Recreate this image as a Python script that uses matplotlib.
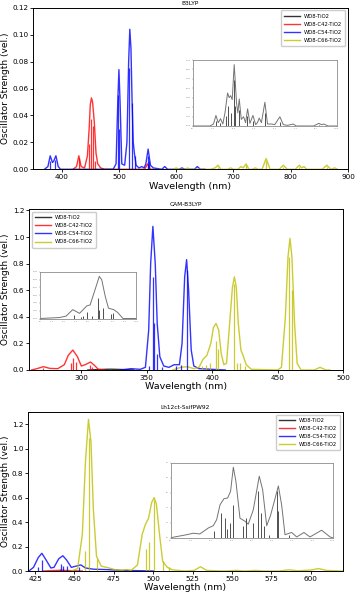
import numpy as np
import matplotlib
matplotlib.use('Agg')
import matplotlib.pyplot as plt

# series names and colours
names = ['WD8-TiO2', 'WD8-C42-TiO2', 'WD8-C54-TiO2', 'WD8-C66-TiO2']
colors = ['k', 'r', 'b', 'y']

# ---------------- B3LYP ----------------
b3_c42 = [(420, 0), (426, 0.002), (430, 0.010), (434, 0.002), (440, 0.001), (445, 0.01),
          (448, 0.03), (450, 0.048), (452, 0.053), (454, 0.05), (457, 0.035), (460, 0.012),
          (463, 0.004), (468, 0.001), (475, 0), (545, 0), (550, 0.004), (555, 0), (560, 0)]
b3_c42_sticks = [(430, 0.008), (448, 0.019), (451, 0.037), (454, 0.032), (459, 0.006), (550, 0.003)]
b3_c54 = [(370, 0), (376, 0.002), (380, 0.010), (384, 0.005), (386, 0.006), (390, 0.010),
          (394, 0.002), (398, 0), (490, 0), (495, 0.004), (498, 0.05), (500, 0.074), (502, 0.05),
          (505, 0.004), (510, 0.003), (514, 0.02), (517, 0.08), (519, 0.104), (521, 0.09),
          (523, 0.05), (525, 0.02), (527, 0.012), (530, 0.003), (535, 0.001), (540, 0.002),
          (544, 0.001), (547, 0.004), (551, 0.015), (555, 0.003), (560, 0.001), (575, 0),
          (580, 0.002), (585, 0), (605, 0), (610, 0.001), (615, 0), (632, 0), (637, 0.002),
          (642, 0), (650, 0)]
b3_c54_sticks = [(379, 0.006), (389, 0.007), (499, 0.055), (501, 0.03), (518, 0.075),
                 (522, 0.049), (528, 0.01), (550, 0.01), (552, 0.006)]
b3_c66 = [(595, 0), (600, 0.001), (605, 0), (616, 0), (620, 0.001), (624, 0), (660, 0),
          (668, 0.001), (673, 0.003), (678, 0), (690, 0), (695, 0.001), (700, 0), (708, 0),
          (713, 0.002), (717, 0.001), (722, 0.004), (727, 0), (733, 0), (738, 0.001), (743, 0),
          (750, 0), (757, 0.008), (764, 0), (780, 0), (787, 0.003), (794, 0), (808, 0),
          (815, 0.003), (819, 0.001), (823, 0.002), (828, 0), (855, 0), (863, 0.003), (870, 0),
          (877, 0.001), (882, 0)]
b3_c66_sticks = [(673, 0.002), (722, 0.003), (757, 0.006), (787, 0.002), (815, 0.002), (863, 0.002)]
b3_inset = [(0, 0), (12, 0), (14.5, 0.03), (16.2, 0.16), (17.8, 0.05), (19.4, 0.11), (21, 0.03),
            (22.5, 0.2), (24.3, 0.50), (25.4, 0.43), (26.4, 0.46), (27.5, 0.4), (28.9, 0.93),
            (30.5, 0.35), (31.4, 0.2), (32.4, 0.41), (33.8, 0.1), (35.4, 0.14), (36.8, 0.05),
            (38.2, 0.26), (39.8, 0.04), (41.9, 0.16), (43.8, 0.02), (45, 0.05), (46.3, 0.12),
            (47.8, 0.05), (50.2, 0.36), (52, 0.03), (54.9, 0.03), (57, 0.02), (60.6, 0.14),
            (63, 0.02), (66, 0.01), (69.9, 0.03), (72, 0), (84, 0), (87.7, 0.04), (89.5, 0.02),
            (91.2, 0.03), (94, 0), (100, 0)]
b3_inset_sticks = [(16, 0.08), (19, 0.05), (23.5, 0.15), (24.5, 0.3), (26.5, 0.2), (28.8, 0.7),
                   (29.5, 0.3), (32.4, 0.25), (38, 0.15), (41.8, 0.08), (50.2, 0.2), (60.5, 0.06),
                   (87.6, 0.02)]

# ---------------- CAM-B3LYP ----------------
cam_c0 = [(305, 0), (315, 0.004), (322, 0.006), (330, 0.004), (340, 0)]
cam_c42 = [(262, 0), (266, 0.01), (271, 0.025), (276, 0.012), (282, 0.01), (287, 0.04),
           (290, 0.11), (293.5, 0.15), (297, 0.1), (300, 0.03), (303, 0.04), (307, 0.06),
           (310, 0.035), (313, 0.005), (318, 0)]
cam_c42_sticks = [(271, 0.015), (292, 0.05), (294, 0.09), (296, 0.06), (307, 0.04), (308, 0.02)]
cam_c54 = [(330, 0), (338, 0.01), (345, 0.005), (349, 0.02), (351.5, 0.3), (353, 0.8),
           (354.7, 1.08), (356.5, 0.8), (358, 0.35), (360, 0.1), (363, 0.03), (367, 0.02),
           (371, 0.04), (375, 0.04), (377, 0.2), (379, 0.7), (380.5, 0.83), (382, 0.6),
           (384, 0.15), (386, 0.03), (390, 0.01), (400, 0.005), (410, 0)]
cam_c54_sticks = [(352, 0.03), (355, 0.70), (355.6, 0.35), (358, 0.12), (362, 0.02),
                  (372, 0.03), (376, 0.04), (380.5, 0.75)]
cam_c66 = [(370, 0), (376, 0.02), (381, 0.025), (386, 0.01), (390, 0.02), (393, 0.08),
           (396, 0.11), (399, 0.2), (401, 0.32), (403, 0.35), (405, 0.3), (407, 0.12),
           (409, 0.04), (411, 0.05), (413, 0.3), (415.5, 0.62), (417, 0.70), (418.5, 0.62),
           (420, 0.35), (422, 0.15), (424, 0.1), (426, 0.04), (430, 0.005), (440, 0.003),
           (450, 0), (453, 0.02), (456, 0.4), (458, 0.85), (459.5, 0.99), (461, 0.85),
           (463, 0.35), (465, 0.05), (468, 0), (478, 0), (482.5, 0.02), (487, 0), (490, 0)]
cam_c66_sticks = [(392, 0.03), (395, 0.04), (398, 0.05), (403, 0.22), (404.5, 0.16),
                  (417, 0.65), (419, 0.05), (421, 0.05), (425, 0.03), (459, 0.85), (461, 0.6)]
cam_inset = [(0, 0), (20, 0.02), (27, 0.05), (34, 0.19), (41, 0.11), (48.6, 0.27), (52, 0.29),
             (57, 0.61), (61.5, 0.9), (64, 0.83), (67.7, 0.47), (71, 0.22), (76.4, 0.19),
             (80.5, 0.13), (86, 0), (100, 0)]
cam_inset_sticks = [(35, 0.08), (43, 0.04), (45, 0.06), (49, 0.14), (54, 0.05), (59.7, 0.44),
                    (61.5, 0.19), (65, 0.22), (73.6, 0.1), (76, 0.12)]

# ---------------- Lh12ct-SsifPW92 ----------------
lh_c42 = [(430, 0), (436, 0.004), (442, 0.006), (448, 0.003), (455, 0)]
lh_c42_sticks = [(438, 0.01), (441, 0.02), (443, 0.015), (445, 0.01)]
lh_c54 = [(421, 0), (424, 0.03), (427, 0.11), (429.3, 0.145), (432, 0.09), (435, 0.025),
          (437, 0.03), (440, 0.1), (442.6, 0.125), (445, 0.09), (448, 0.03), (451, 0.04),
          (454, 0.05), (457, 0.025), (462, 0.015), (470, 0.012), (480, 0.005), (490, 0.003),
          (500, 0)]
lh_c54_sticks = [(427, 0.03), (429.5, 0.09), (441.5, 0.06), (442.5, 0.04), (445, 0.04), (453, 0.03)]
lh_c66 = [(448, 0), (452, 0.02), (455, 0.3), (457, 0.9), (458.9, 1.24), (460.5, 1.05),
          (462, 0.5), (464, 0.12), (467, 0.04), (472, 0.025), (476, 0.01), (480, 0.005),
          (483, 0.012), (486, 0.005), (490, 0.05), (493, 0.3), (495, 0.38), (497, 0.43),
          (499, 0.56), (500.6, 0.6), (502, 0.55), (504, 0.3), (506, 0.08), (509, 0.03),
          (512, 0.01), (520, 0), (526, 0.005), (530, 0.035), (534, 0.005), (545, 0),
          (553, 0.005), (558, 0), (565, 0.005), (570, 0), (580, 0), (586, 0.01), (592, 0.002),
          (600, 0.008), (605, 0.02), (610, 0.005), (620, 0)]
lh_c66_sticks = [(457, 0.16), (459.5, 1.09), (464.5, 0.1), (495.2, 0.18), (497.3, 0.24),
                 (500.8, 0.58), (506.2, 0.08), (510, 0.03)]
lh_inset = [(0, 0), (9.9, 0.04), (14, 0.06), (18, 0.05), (23.3, 0.13), (26.3, 0.16), (28.4, 0.24),
            (30.5, 0.44), (32.9, 0.52), (35.2, 0.53), (37, 0.62), (38.7, 0.94), (40.3, 0.75),
            (42.8, 0.26), (45.9, 0.22), (47.9, 0.18), (51, 0.37), (54.7, 0.82), (56.8, 0.64),
            (59.3, 0.16), (61.7, 0.3), (66.5, 0.69), (68.5, 0.44), (70.6, 0.04), (74.7, 0.07),
            (77.8, 0.01), (82.3, 0.07), (86, 0.01), (93.2, 0.1), (98.4, 0.01), (100, 0)]
lh_inset_sticks = [(26.7, 0.09), (30.9, 0.33), (33.7, 0.26), (34.6, 0.12), (36.6, 0.19),
                   (38.7, 0.43), (44.8, 0.15), (46.3, 0.26), (50.6, 0.19), (54, 0.62),
                   (55.6, 0.33), (57.6, 0.15), (61, 0.04), (65.4, 0.62), (66.3, 0.35), (73, 0.04)]


def draw(ax, curves, sticks):
    for i, c in enumerate(curves):
        if c:
            x, y = np.array(c).T
        else:
            x, y = [], []
        ax.plot(x, y, color=colors[i], lw=1.0, alpha=0.8, label=names[i])
    for i, s in enumerate(sticks):
        if s:
            x, y = np.array(s).T
            ax.vlines(x, 0, y, color=colors[i], lw=0.9, alpha=0.8)


def style(ax, title, xlim, ylim, yticks, xticks, ylx):
    ax.set_xlim(*xlim)
    ax.set_ylim(*ylim)
    ax.set_xticks(xticks)
    ax.set_yticks(yticks)
    ax.tick_params(labelsize=5.2, length=2, width=0.6, pad=1.5)
    ax.set_title(title, fontsize=4.2, pad=2)
    ax.set_xlabel('Wavelength (nm)', fontsize=6.8, labelpad=1)
    ax.set_ylabel('Oscillator Strength (vel.)', fontsize=6.5)
    ax.yaxis.set_label_coords(ylx, 0.5)
    for sp in ax.spines.values():
        sp.set_linewidth(0.7)


def inset(fig, rect, curve, sticks, xt, yt):
    a = fig.add_axes(rect)
    x, y = np.array(curve).T
    a.plot(x, y, color='0.45', lw=0.7)
    sx, sy = np.array(sticks).T
    a.vlines(sx, 0, sy, color='0.2', lw=0.6)
    a.set_xlim(0, 100)
    a.set_ylim(0, 1)
    a.set_xticks(xt)
    a.set_yticks(yt)
    a.tick_params(labelsize=1.3, length=1, width=0.3, pad=0.5, colors='0.5')
    for sp in a.spines.values():
        sp.set_linewidth(0.6)
        sp.set_color('0.55')
    return a


fig = plt.figure(figsize=(3.6, 5.96), dpi=100)

ax1 = fig.add_axes([0.0917, 0.716, 0.875, 0.271])
draw(ax1, [[], b3_c42, b3_c54, b3_c66], [[], b3_c42_sticks, b3_c54_sticks, b3_c66_sticks])
style(ax1, 'B3LYP', (350, 900), (0, 0.12), np.arange(0, 0.121, 0.02), range(400, 901, 100), -0.073)
ax1.legend(loc='upper right', fontsize=3.8, handlelength=3, borderpad=0.6, labelspacing=0.6,
           framealpha=1, edgecolor='0.8', fancybox=True)
inset(fig, [0.535, 0.7886, 0.4, 0.1107], b3_inset, b3_inset_sticks,
      np.linspace(0, 100, 8), np.linspace(0, 1, 8))

ax2 = fig.add_axes([0.0806, 0.3792, 0.872, 0.270])
draw(ax2, [cam_c0, cam_c42, cam_c54, cam_c66], [[], cam_c42_sticks, cam_c54_sticks, cam_c66_sticks])
style(ax2, 'CAM-B3LYP', (260, 500), (0, 1.21), np.arange(0, 1.21, 0.2), range(300, 501, 50), -0.06)
ax2.legend(loc='upper left', fontsize=3.8, handlelength=3, borderpad=0.6, labelspacing=0.6,
           framealpha=1, edgecolor='0.8', fancybox=True)
inset(fig, [0.111, 0.4656, 0.268, 0.0785], cam_inset, cam_inset_sticks,
      np.linspace(0, 100, 9), np.linspace(0, 1, 7))

ax3 = fig.add_axes([0.0778, 0.0419, 0.875, 0.2668])
draw(ax3, [[], lh_c42, lh_c54, lh_c66], [[], lh_c42_sticks, lh_c54_sticks, lh_c66_sticks])
style(ax3, 'Lh12ct-SsifPW92', (420.5, 620.5), (0, 1.3), np.arange(0, 1.21, 0.2), range(425, 601, 25), -0.057)
ax3.legend(loc='upper right', fontsize=3.8, handlelength=3, borderpad=0.6, labelspacing=0.6,
           framealpha=1, edgecolor='0.8', fancybox=True)
inset(fig, [0.474, 0.0978, 0.45, 0.1258], lh_inset, lh_inset_sticks,
      np.linspace(0, 100, 9), np.linspace(0, 1, 6))

fig.savefig('out.png', dpi=100)
